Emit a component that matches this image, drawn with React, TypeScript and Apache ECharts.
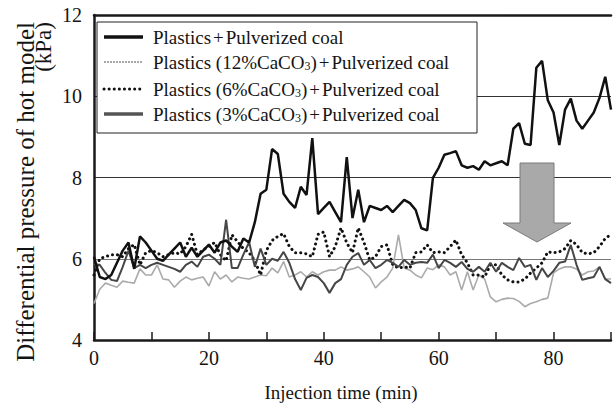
import React, { useEffect, useRef } from "react";
import * as echarts from "echarts";

// Injection time (min), one reading per minute
const minutes: number[] = Array.from({ length: 91 }, (_, i) => i);

// Plastics + Pulverized coal
const plainPlastics: number[] = [
  6.05, 5.55, 5.5, 5.6, 5.9, 6.2, 6.4, 5.75, 6.55, 6.4,
  6.2, 6.0, 5.95, 6.1, 6.25, 6.4, 6.05, 6.27, 6.05, 6.2,
  6.35, 6.15, 6.4, 6.45, 6.3, 6.17, 6.5, 6.4, 6.9, 7.6,
  7.7, 8.7, 8.58, 7.6, 7.4, 7.25, 7.77, 7.57, 8.97, 7.1,
  7.25, 7.4, 7.15, 6.9, 8.5, 7.0, 7.7, 6.9, 7.3, 7.25,
  7.2, 7.3, 7.15, 7.3, 7.45, 7.37, 7.2, 6.75, 6.7, 7.99,
  8.24, 8.56, 8.6, 8.65, 8.3, 8.24, 8.28, 8.19, 8.4, 8.3,
  8.35, 8.4, 8.3, 9.2, 9.34, 8.83, 8.8, 10.7, 10.87, 9.9,
  9.6, 8.8, 9.67, 9.94, 9.4, 9.2, 9.4, 9.6, 9.96, 10.48,
  9.67,
];

// Plastics (12%CaCO3) + Pulverized coal
const caco3_12: number[] = [
  4.9, 5.25, 5.4, 5.35, 5.3, 5.45, 5.42, 5.4, 5.75, 5.6,
  5.6, 5.85, 5.5, 5.48, 5.3, 5.45, 5.55, 5.48, 5.52, 5.55,
  5.33, 5.68, 5.5, 5.6, 5.43, 5.55, 5.52, 5.5, 5.55, 5.6,
  5.58, 5.77, 5.65, 5.93, 5.55, 5.6, 5.68, 5.55, 5.68, 5.6,
  5.68, 5.72, 5.72, 5.8, 5.72, 5.75, 5.8, 5.68, 5.55, 5.28,
  5.43, 5.55, 5.77, 6.59, 5.77, 5.72, 5.6, 5.53, 5.77, 5.73,
  5.85, 5.8, 5.6, 5.68, 5.23, 5.68, 5.23, 5.6, 5.5, 5.06,
  4.94, 5.0, 5.03, 5.02, 4.95, 4.82, 4.9, 4.94, 5.0, 5.03,
  5.65, 5.75, 5.8, 5.8, 5.75, 5.6, 5.68, 5.7, 5.8, 5.5,
  5.5,
];

// Plastics (6%CaCO3) + Pulverized coal
const caco3_6: number[] = [
  5.6, 6.0, 6.05, 6.1, 6.1, 6.05, 6.25, 6.35, 5.85, 6.15,
  6.2, 6.15, 6.05, 6.1, 6.15, 6.12, 6.3, 6.6, 6.1, 6.22,
  6.3, 6.4, 6.1, 5.95, 6.59, 6.42, 6.25, 6.15, 5.95, 5.6,
  6.2, 6.45, 6.55, 6.62, 6.3, 6.15, 6.15, 6.12, 6.05, 6.6,
  6.66, 6.05, 6.3, 6.76, 6.39, 6.15, 6.76, 6.4, 5.97, 6.05,
  6.3, 6.34, 5.85, 5.77, 5.8, 5.77, 6.15, 6.17, 6.34, 6.15,
  6.17, 6.15, 6.3, 6.46, 6.1, 5.9, 5.6, 5.6, 5.55, 5.85,
  5.85, 5.6, 5.48, 5.43, 5.43, 5.5, 5.65, 5.77, 5.9, 6.17,
  6.15, 6.17, 6.25, 6.45, 6.35, 6.15, 6.12, 6.15, 6.3, 6.5,
  6.6,
];

// Plastics (3%CaCO3) + Pulverized coal
const caco3_3: number[] = [
  5.85, 5.85, 5.65, 5.48, 5.45, 5.8, 6.2, 5.77, 5.85, 5.77,
  5.85, 5.9, 5.85, 5.8, 5.75, 5.68, 5.85, 5.93, 5.8, 6.05,
  6.1, 6.0, 5.85, 6.96, 5.77, 5.77, 6.1, 6.41, 5.8, 6.25,
  5.85, 6.0, 5.95, 6.17, 5.9, 5.5, 5.23, 5.53, 5.6, 5.55,
  5.4, 5.16, 5.4, 5.5, 5.85, 6.05, 6.14, 5.85, 5.97, 5.77,
  5.85, 5.97, 5.9, 5.8, 5.97, 5.85, 5.9, 5.92, 5.9, 6.1,
  5.77, 5.97, 5.9, 5.8, 5.92, 5.75, 5.68, 5.8, 5.68, 5.9,
  5.68, 5.9, 5.8, 5.72, 6.02, 5.8, 5.85, 5.48, 5.77, 5.55,
  5.7, 5.9, 5.93, 6.34, 5.85, 5.48, 5.52, 5.55, 5.8, 5.5,
  5.4,
];

const legendNames: string[] = [
  "Plastics{p|+}Pulverized coal",
  "Plastics (12%CaCO{sub|3}){p|+}Pulverized coal",
  "Plastics (6%CaCO{sub|3}){p|+}Pulverized coal",
  "Plastics (3%CaCO{sub|3}){p|+}Pulverized coal",
];

const xTitle = "Injection time (min)";
const yTitle1 = "Differential pressure of hot model";
const yTitle2 = "(kPa)";

const FONT = "Liberation Serif";
const INK = "#141414";

const pairs = (vals: number[]) => minutes.map((t, i) => [t, vals[i]]);

export default function App() {
  const ref = useRef<HTMLDivElement>(null);

  useEffect(() => {
    if (!ref.current) return;
    const chart = echarts.init(ref.current, undefined, { renderer: "svg" });

    const lineStyles = [
      { stroke: "#111", lineWidth: 3.5 },
      { stroke: "#a8a8a8", lineWidth: 2, lineDash: [2, 1] },
      { stroke: "#111", lineWidth: 3, lineDash: [0.1, 5], lineCap: "round" },
      { stroke: "#555", lineWidth: 3.5 },
    ];
    const rowsY = [37, 62, 89, 114];

    const richStyles = {
      p: { fontSize: 19, fontFamily: FONT, fill: INK, padding: [0, 2] },
      sub: { fontSize: 12, fontFamily: FONT, fill: INK, verticalAlign: "bottom", lineHeight: 18 },
    };

    const legendGraphics: any[] = [
      {
        type: "rect",
        shape: { x: 97, y: 22, width: 380, height: 111 },
        style: { fill: "#fff", stroke: "#222", lineWidth: 1 },
        z: 100,
      },
    ];
    legendNames.forEach((name, i) => {
      legendGraphics.push({
        type: "line",
        shape: { x1: 104, y1: rowsY[i], x2: 143, y2: rowsY[i] },
        style: lineStyles[i],
        z: 101,
      });
      legendGraphics.push({
        type: "text",
        x: 153,
        y: rowsY[i],
        style: {
          text: name,
          fontSize: 19,
          fontFamily: FONT,
          fill: INK,
          align: "left",
          textAlign: "left",
          verticalAlign: "middle",
          textVerticalAlign: "middle",
          rich: richStyles,
        },
        z: 101,
      });
    });

    const option: any = {
      animation: false,
      backgroundColor: "#fff",
      grid: {
        left: 94,
        top: 15,
        width: 523,
        height: 325,
        show: false,
      },
      xAxis: [
        {
          type: "value",
          min: 0,
          max: 90,
          interval: 10,
          axisLine: { show: true, onZero: false, lineStyle: { color: "#1a1a1a", width: 2.5 } },
          axisTick: { show: true, inside: true, length: 8, lineStyle: { color: "#1a1a1a", width: 1.5 } },
          axisLabel: {
            margin: 8,
            fontSize: 20,
            fontFamily: FONT,
            color: INK,
            formatter: (v: number) => (v % 20 === 0 ? String(v) : ""),
          },
          splitLine: { show: false },
        },
        {
          type: "value",
          position: "top",
          min: 0,
          max: 90,
          interval: 10,
          axisLine: { show: true, onZero: false, lineStyle: { color: "#1a1a1a", width: 2.5 } },
          axisTick: { show: false },
          axisLabel: { show: false },
          splitLine: { show: false },
        },
      ],
      yAxis: {
        type: "value",
        min: 4,
        max: 12,
        interval: 2,
        axisLine: { show: true, onZero: false, lineStyle: { color: "#1a1a1a", width: 2.5 } },
        axisTick: { show: false },
        axisLabel: { margin: 12, fontSize: 20, fontFamily: FONT, color: INK },
        splitLine: {
          show: true,
          lineStyle: { color: ["#333", "#777", "#333", "#333", "#333"], width: 1 },
        },
      },
      series: [
        {
          name: "12%",
          type: "line",
          data: pairs(caco3_12),
          showSymbol: false,
          symbol: "none",
          lineStyle: { color: "#aaaaaa", width: 1.6 },
          z: 2,
        },
        {
          name: "6%",
          type: "line",
          data: pairs(caco3_6),
          showSymbol: false,
          symbol: "none",
          lineStyle: { color: "#111", width: 3, type: [0.1, 5], cap: "round" },
          z: 3,
        },
        {
          name: "3%",
          type: "line",
          data: pairs(caco3_3),
          showSymbol: false,
          symbol: "none",
          lineStyle: { color: "#464646", width: 2 },
          z: 4,
        },
        {
          name: "plain",
          type: "line",
          data: pairs(plainPlastics),
          showSymbol: false,
          symbol: "none",
          lineStyle: { color: "#111", width: 2.5 },
          z: 5,
        },
      ],
      graphic: [
        ...legendGraphics,
        {
          type: "polygon",
          shape: {
            points: [
              [520, 163],
              [554, 163],
              [554, 223],
              [571, 223],
              [537, 242],
              [503, 223],
              [520, 223],
            ],
          },
          style: { fill: "#a9a9a9", stroke: "#7a7a7a", lineWidth: 1 },
          z: 100,
        },
        {
          type: "text",
          x: 341,
          y: 392,
          style: {
            text: xTitle,
            fontSize: 19,
            fontFamily: FONT,
            fill: INK,
            align: "center",
            textAlign: "center",
            verticalAlign: "middle",
            textVerticalAlign: "middle",
          },
        },
        {
          type: "text",
          x: 25,
          y: 22,
          rotation: Math.PI / 2,
          style: {
            text: yTitle1,
            fontSize: 25,
            fontFamily: FONT,
            fill: INK,
            align: "right",
            textAlign: "right",
            verticalAlign: "middle",
            textVerticalAlign: "middle",
          },
        },
        {
          type: "text",
          x: 43,
          y: 22,
          rotation: Math.PI / 2,
          style: {
            text: yTitle2,
            fontSize: 23,
            fontFamily: FONT,
            fill: INK,
            align: "right",
            textAlign: "right",
            verticalAlign: "middle",
            textVerticalAlign: "middle",
          },
        },
      ],
    };

    chart.setOption(option);
    return () => chart.dispose();
  }, []);

  return (
    <div
      ref={ref}
      style={{ position: "fixed", left: 0, top: 0, width: 614, height: 412 }}
    />
  );
}
